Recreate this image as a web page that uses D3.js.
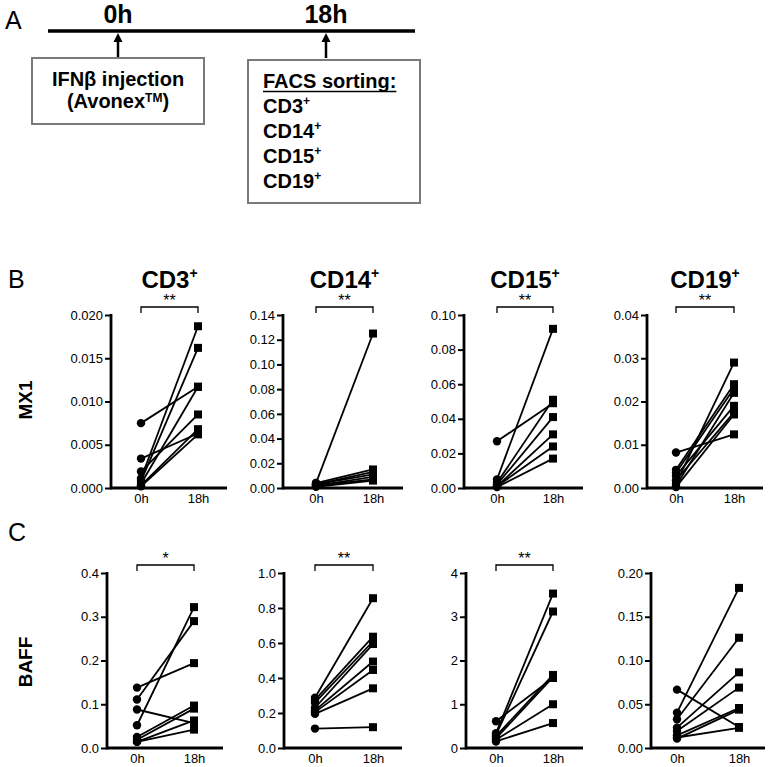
<!DOCTYPE html>
<html>
<head>
<meta charset="utf-8">
<script src="https://cdn.jsdelivr.net/npm/d3@7"></script>
<style>
  html, body { margin: 0; padding: 0; background: #fff; }
  svg { display: block; font-family: "Liberation Sans", Arial, sans-serif; }
</style>
</head>
<body>
<svg id="chart" width="770" height="767"></svg>
<script>
// ---------------- DATA ----------------
const timeLabels = ["0h", "18h"];
const cellTypes = ["CD3", "CD14", "CD15", "CD19"];
const sortList = ["CD3", "CD14", "CD15", "CD19"];

// MX1 (row B)
const mx1_CD3_0h  = [0.0075, 0.0034, 0.0019, 0.0011, 0.0008, 0.0005, 0.0003, 0.0002];
const mx1_CD3_18h = [0.0117, 0.0063, 0.0085, 0.0187, 0.0162, 0.0117, 0.0068, 0.0062];
const mx1_CD14_0h  = [0.004, 0.004, 0.003, 0.003, 0.002, 0.002, 0.001];
const mx1_CD14_18h = [0.125, 0.015, 0.013, 0.011, 0.009, 0.007, 0.006];
const mx1_CD15_0h  = [0.027, 0.005, 0.003, 0.002, 0.001, 0.001, 0.0005];
const mx1_CD15_18h = [0.049, 0.092, 0.051, 0.041, 0.031, 0.024, 0.017];
const mx1_CD19_0h  = [0.0082, 0.0042, 0.0035, 0.0028, 0.0018, 0.0010, 0.0005, 0.0002];
const mx1_CD19_18h = [0.0124, 0.0240, 0.0230, 0.0190, 0.0175, 0.0290, 0.0220, 0.0170];

// BAFF (row C)
const baff_CD3_0h  = [0.138, 0.111, 0.088, 0.052, 0.025, 0.019, 0.014, 0.014];
const baff_CD3_18h = [0.194, 0.290, 0.057, 0.322, 0.097, 0.090, 0.063, 0.042];
const baff_CD14_0h  = [0.287, 0.275, 0.259, 0.230, 0.215, 0.205, 0.195, 0.111];
const baff_CD14_18h = [0.856, 0.636, 0.610, 0.594, 0.494, 0.446, 0.341, 0.119];
const baff_CD15_0h  = [0.61, 0.34, 0.30, 0.27, 0.22, 0.19, 0.15];
const baff_CD15_18h = [1.60, 3.53, 3.12, 1.67, 1.62, 1.00, 0.57];
const baff_CD19_0h  = [0.0667, 0.0404, 0.0328, 0.0232, 0.0194, 0.0145, 0.0107, 0.0120];
const baff_CD19_18h = [0.0240, 0.1830, 0.1260, 0.0865, 0.0690, 0.0457, 0.0438, 0.0230];

// Tick values
const mx1Ticks_CD3  = [0, 0.005, 0.010, 0.015, 0.020];
const mx1Ticks_CD14 = [0, 0.02, 0.04, 0.06, 0.08, 0.10, 0.12, 0.14];
const mx1Ticks_CD15 = [0, 0.02, 0.04, 0.06, 0.08, 0.10];
const mx1Ticks_CD19 = [0, 0.01, 0.02, 0.03, 0.04];
const baffTicks_CD3  = [0, 0.1, 0.2, 0.3, 0.4];
const baffTicks_CD14 = [0, 0.2, 0.4, 0.6, 0.8, 1.0];
const baffTicks_CD15 = [0, 1, 2, 3, 4];
const baffTicks_CD19 = [0, 0.05, 0.10, 0.15, 0.20];

// Tick label formats
const mx1Formats  = [".3f", ".2f", ".2f", ".2f"];
const baffFormats = [".1f", ".1f", "d", ".2f"];

// Significance marks
const mx1Sig  = ["**", "**", "**", "**"];
const baffSig = ["*", "**", "**", ""];

// ---------------- LAYOUT ----------------
const svg = d3.select("#chart");
const FONT_BOLD = 700;

const rowB = { top: 315, bottom: 488 };
const rowC = { top: 573, bottom: 748 };
const layoutB = [
  { axis: 111, x0: 141, x1: 198, end: 227 },
  { axis: 283, x0: 316, x1: 373, end: 403 },
  { axis: 464, x0: 497, x1: 553, end: 583 },
  { axis: 647, x0: 676, x1: 734, end: 763 }
];
const layoutC = [
  { axis: 107, x0: 137, x1: 194, end: 223 },
  { axis: 284, x0: 315, x1: 373, end: 402 },
  { axis: 466, x0: 496, x1: 553, end: 583 },
  { axis: 651, x0: 677, x1: 739, end: 765 }
];

// ---------------- PANEL A ----------------
const gA = svg.append("g");
gA.append("text").attr("x", 5).attr("y", 29).attr("font-size", 25).text("A");

const timeline = d3.scalePoint().domain(timeLabels).range([118, 326]);
gA.append("line").attr("x1", 48).attr("x2", 415).attr("y1", 31).attr("y2", 31)
  .attr("stroke", "#000").attr("stroke-width", 3.5);
timeLabels.forEach(t => {
  const x = timeline(t);
  gA.append("text").attr("x", x).attr("y", 23).attr("text-anchor", "middle")
    .attr("font-size", 25).attr("font-weight", FONT_BOLD).text(t);
  gA.append("line").attr("x1", x).attr("x2", x).attr("y1", 40).attr("y2", 58)
    .attr("stroke", "#000").attr("stroke-width", 2.5);
  gA.append("path").attr("d", `M${x},33 L${x - 4.5},42 L${x + 4.5},42 Z`).attr("fill", "#000");
});

// Box 1
gA.append("rect").attr("x", 32).attr("y", 58).attr("width", 172).attr("height", 66)
  .attr("fill", "#fff").attr("stroke", "#7a7a7a").attr("stroke-width", 2);
gA.append("text").attr("x", 118).attr("y", 86).attr("text-anchor", "middle")
  .attr("font-size", 20).attr("font-weight", FONT_BOLD).text("IFNβ injection");
const av = gA.append("text").attr("x", 118).attr("y", 108).attr("text-anchor", "middle")
  .attr("font-size", 20).attr("font-weight", FONT_BOLD);
av.append("tspan").text("(Avonex");
av.append("tspan").attr("font-size", 12).attr("dy", -6).text("TM");
av.append("tspan").attr("dy", 6).text(")");

// Box 2
gA.append("rect").attr("x", 248).attr("y", 60).attr("width", 172).attr("height", 143)
  .attr("fill", "#fff").attr("stroke", "#7a7a7a").attr("stroke-width", 2);
const facs = gA.append("text").attr("x", 263).attr("y", 88)
  .attr("font-size", 20).attr("font-weight", FONT_BOLD).text("FACS sorting:");
const fw = facs.node().getComputedTextLength();
gA.append("line").attr("x1", 263).attr("x2", 263 + fw).attr("y1", 91.5).attr("y2", 91.5)
  .attr("stroke", "#000").attr("stroke-width", 1.6);
sortList.forEach((c, i) => {
  const t = gA.append("text").attr("x", 263).attr("y", 113 + i * 25)
    .attr("font-size", 20).attr("font-weight", FONT_BOLD);
  t.append("tspan").text(c);
  t.append("tspan").attr("font-size", 12).attr("dy", -8).text("+");
});

// ---------------- PANELS B & C ----------------
svg.append("text").attr("x", 8).attr("y", 288).attr("font-size", 25).text("B");
svg.append("text").attr("x", 8).attr("y", 541).attr("font-size", 25).text("C");

svg.append("text").attr("transform", "translate(32,400) rotate(-90)")
  .attr("text-anchor", "middle").attr("font-size", 19).attr("font-weight", FONT_BOLD).text("MX1");
svg.append("text").attr("transform", "translate(32,662) rotate(-90)")
  .attr("text-anchor", "middle").attr("font-size", 19).attr("font-weight", FONT_BOLD).text("BAFF");

function drawPanel(lay, row, pre, post, ticks, fmt, sig, title) {
  const g = svg.append("g");
  const y = d3.scaleLinear().domain([0, ticks[ticks.length - 1]]).range([row.bottom, row.top]);
  const x = d3.scalePoint().domain(timeLabels).range([lay.x0, lay.x1]);

  // Y axis
  const ya = g.append("g").attr("transform", `translate(${lay.axis},0)`)
    .call(d3.axisLeft(y).tickValues(ticks).tickFormat(d3.format(fmt)).tickSize(6).tickSizeOuter(0).tickPadding(2));
  ya.select(".domain").attr("stroke-width", 2.8).attr("d", `M0,${row.bottom + 1.4}V${row.top - 1}`);
  ya.selectAll(".tick line").attr("stroke-width", 2);
  ya.selectAll(".tick text").attr("font-size", 13).attr("font-family", "Liberation Sans, Arial, sans-serif").attr("fill", "#000");

  // X axis
  const xa = g.append("g").attr("transform", `translate(0,${row.bottom})`)
    .call(d3.axisBottom(x).tickSize(0).tickPadding(6));
  xa.select(".domain").attr("stroke-width", 2.8).attr("d", `M${lay.axis},0H${lay.end}`);
  xa.selectAll(".tick text").attr("font-size", 13).attr("font-family", "Liberation Sans, Arial, sans-serif").attr("fill", "#000");

  // Paired lines
  const pairs = pre.map((v, i) => ({ a: v, b: post[i] }));
  g.selectAll("line.pair").data(pairs).enter().append("line").attr("class", "pair")
    .attr("x1", x("0h")).attr("y1", d => y(d.a))
    .attr("x2", x("18h")).attr("y2", d => y(d.b))
    .attr("stroke", "#000").attr("stroke-width", 1.8);
  g.selectAll("circle.pre").data(pre).enter().append("circle").attr("class", "pre")
    .attr("cx", x("0h")).attr("cy", d => y(d)).attr("r", 4.2).attr("fill", "#000");
  g.selectAll("rect.post").data(post).enter().append("rect").attr("class", "post")
    .attr("x", x("18h") - 4).attr("y", d => y(d) - 4).attr("width", 8).attr("height", 8).attr("fill", "#000");

  // Significance bracket
  if (sig) {
    const by = row.top - 8;
    g.append("path").attr("d", `M${x("0h")},${by + 6}V${by}H${x("18h")}V${by + 6}`)
      .attr("fill", "none").attr("stroke", "#000").attr("stroke-width", 1.3);
    g.append("text").attr("x", (x("0h") + x("18h")) / 2).attr("y", by - 1)
      .attr("text-anchor", "middle").attr("font-size", 16).text(sig);
  }

  // Title
  if (title) {
    const t = g.append("text").attr("x", (x("0h") + x("18h")) / 2).attr("y", 288)
      .attr("text-anchor", "middle").attr("font-size", 24).attr("font-weight", FONT_BOLD);
    t.append("tspan").text(title);
    t.append("tspan").attr("font-size", 14).attr("dy", -10).text("+");
  }
}

const mx1Pre  = [mx1_CD3_0h, mx1_CD14_0h, mx1_CD15_0h, mx1_CD19_0h];
const mx1Post = [mx1_CD3_18h, mx1_CD14_18h, mx1_CD15_18h, mx1_CD19_18h];
const mx1Ticks = [mx1Ticks_CD3, mx1Ticks_CD14, mx1Ticks_CD15, mx1Ticks_CD19];
const baffPre  = [baff_CD3_0h, baff_CD14_0h, baff_CD15_0h, baff_CD19_0h];
const baffPost = [baff_CD3_18h, baff_CD14_18h, baff_CD15_18h, baff_CD19_18h];
const baffTicks = [baffTicks_CD3, baffTicks_CD14, baffTicks_CD15, baffTicks_CD19];

cellTypes.forEach((c, i) => {
  drawPanel(layoutB[i], rowB, mx1Pre[i], mx1Post[i], mx1Ticks[i], mx1Formats[i], mx1Sig[i], c);
  drawPanel(layoutC[i], rowC, baffPre[i], baffPost[i], baffTicks[i], baffFormats[i], baffSig[i], null);
});
</script>
</body>
</html>
